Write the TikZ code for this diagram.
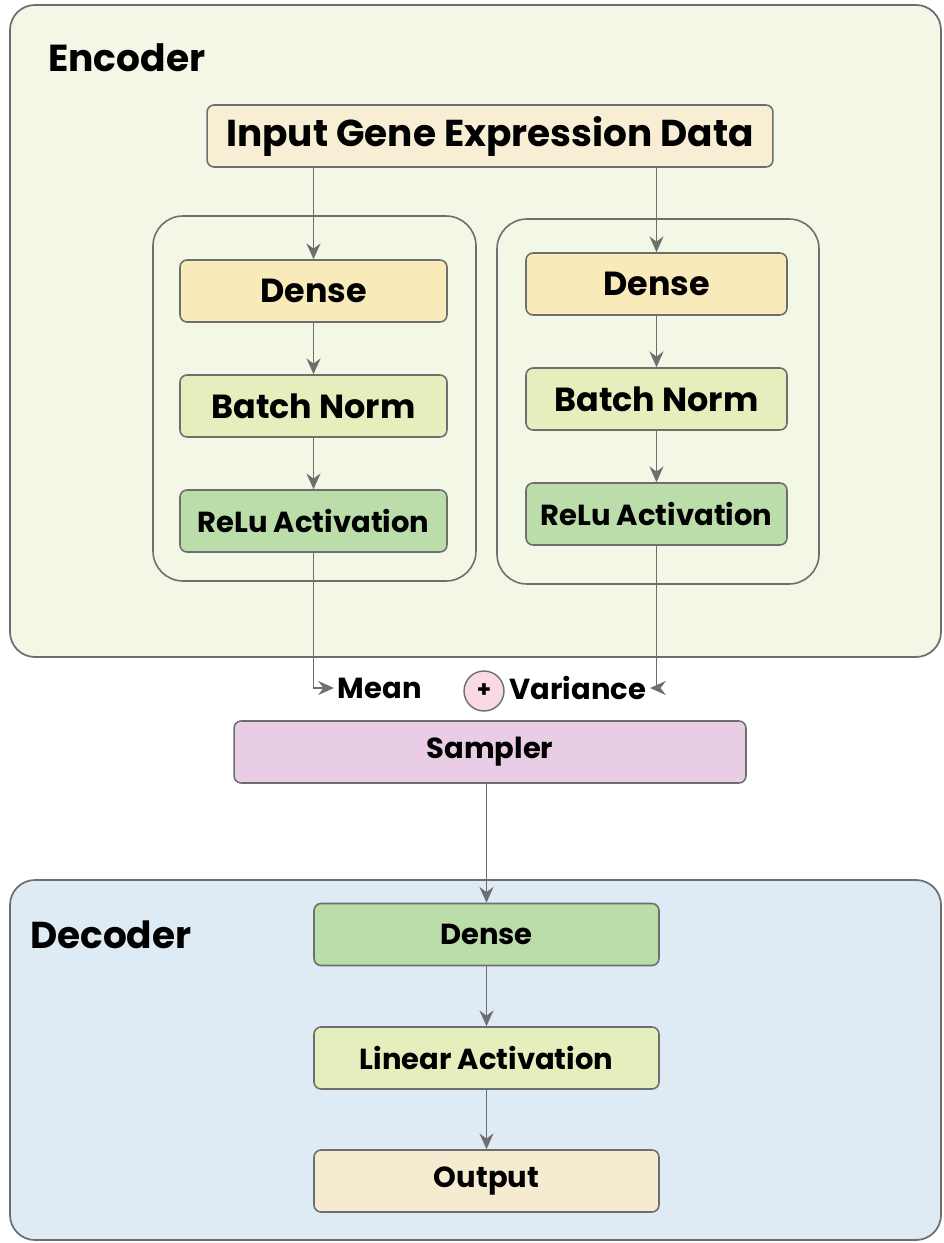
\documentclass[tikz,border=0pt]{standalone}
\usepackage{fontspec}
\setmainfont{Poppins}
\usetikzlibrary{arrows.meta}
\definecolor{encbg}{HTML}{F2F7E6}
\definecolor{decbg}{HTML}{DEEBF5}
\definecolor{inputc}{HTML}{F8EED3}
\definecolor{densec}{HTML}{F8EAB9}
\definecolor{normc}{HTML}{E5EEBD}
\definecolor{reluc}{HTML}{BADDA9}
\definecolor{samplc}{HTML}{E9CDE5}
\definecolor{plusc}{HTML}{F9D9E2}
\definecolor{outc}{HTML}{F5EBD0}
\definecolor{linec}{HTML}{6E6E6E}

\begin{document}
\begin{tikzpicture}[x=0.02cm,y=-0.02cm,
    layer/.style={draw=linec,line width=0.9pt,rounded corners=4pt,minimum height=1.24cm,font=\bfseries\fontsize{19}{22}\selectfont},
    small/.style={font=\bfseries\fontsize{16.5}{19}\selectfont},
    group/.style={draw=linec,line width=0.9pt,rounded corners=0.6cm},
    panel/.style={draw=linec,line width=1pt,rounded corners=0.5cm},
    arr/.style={draw=linec,line width=0.9pt,-{Stealth[length=9pt,width=8pt,inset=3pt]}}]
        \useasboundingbox (0,0) rectangle (943,1243);
        % encoder
        \draw[panel,fill=encbg] (10,5) rectangle (941,657);
        \node[anchor=west,font=\bfseries\fontsize{21.4}{25}\selectfont] (enc) at (42,58) {Encoder};
        \node[layer,fill=inputc,minimum width=11.32cm,font=\bfseries\fontsize{21.3}{25}\selectfont] (inp) at (490,136) {Input Gene Expression Data};
        \draw[group] (153,216) rectangle (476,581);
        \draw[group] (497,219) rectangle (819,584);
        \node[layer,fill=densec,minimum width=5.34cm] (ldense) at (313.5,291) {Dense};
        \node[layer,fill=normc,minimum width=5.34cm] (lnorm) at (313.5,406) {Batch Norm};
        \node[layer,fill=reluc,minimum width=5.34cm,small] (lrelu) at (313.5,521) {ReLu Activation};
        \node[layer,fill=densec,minimum width=5.22cm] (rdense) at (656.5,284) {Dense};
        \node[layer,fill=normc,minimum width=5.22cm] (rnorm) at (656.5,399) {Batch Norm};
        \node[layer,fill=reluc,minimum width=5.22cm,small] (rrelu) at (656.5,514) {ReLu Activation};
        \draw[arr] (inp.south -| ldense) -- (ldense);
        \draw[arr] (ldense) -- (lnorm);
        \draw[arr] (lnorm) -- (lrelu);
        \draw[arr] (inp.south -| rdense) -- (rdense);
        \draw[arr] (rdense) -- (rnorm);
        \draw[arr] (rnorm) -- (rrelu);
        % latent
        \node[anchor=west,small,inner sep=2pt] (mean) at (334,688) {Mean};
        \node[draw=linec,fill=plusc,circle,minimum size=0.8cm,inner sep=0,line width=0.8pt,font=\bfseries\fontsize{13}{13}\selectfont] (plus) at (484,691) {+};
        \node[anchor=east,small,inner sep=2pt] (var) at (650,688) {Variance};
        \draw[arr] (lrelu) |- (mean);
        \draw[arr] (rrelu) |- (var);
        \node[layer,fill=samplc,minimum width=10.24cm,small] (sampler) at (490,752) {Sampler};
        % decoder
        \draw[panel,fill=decbg] (10,880) rectangle (941,1240);
        \node[anchor=west,font=\bfseries\fontsize{21.3}{25}\selectfont] (dec) at (24,935) {Decoder};
        \node[layer,fill=reluc,minimum width=6.9cm,small] (ddense) at (486.5,934.5) {Dense};
        \node[layer,fill=normc,minimum width=6.9cm,small] (lin) at (486.5,1058) {Linear Activation};
        \node[layer,fill=outc,minimum width=6.9cm,small] (out) at (486.5,1181) {Output};
        \draw[arr] (sampler.south -| ddense) -- (ddense);
        \draw[arr] (ddense) -- (lin);
        \draw[arr] (lin) -- (out);
      \end{tikzpicture}
\end{document}
